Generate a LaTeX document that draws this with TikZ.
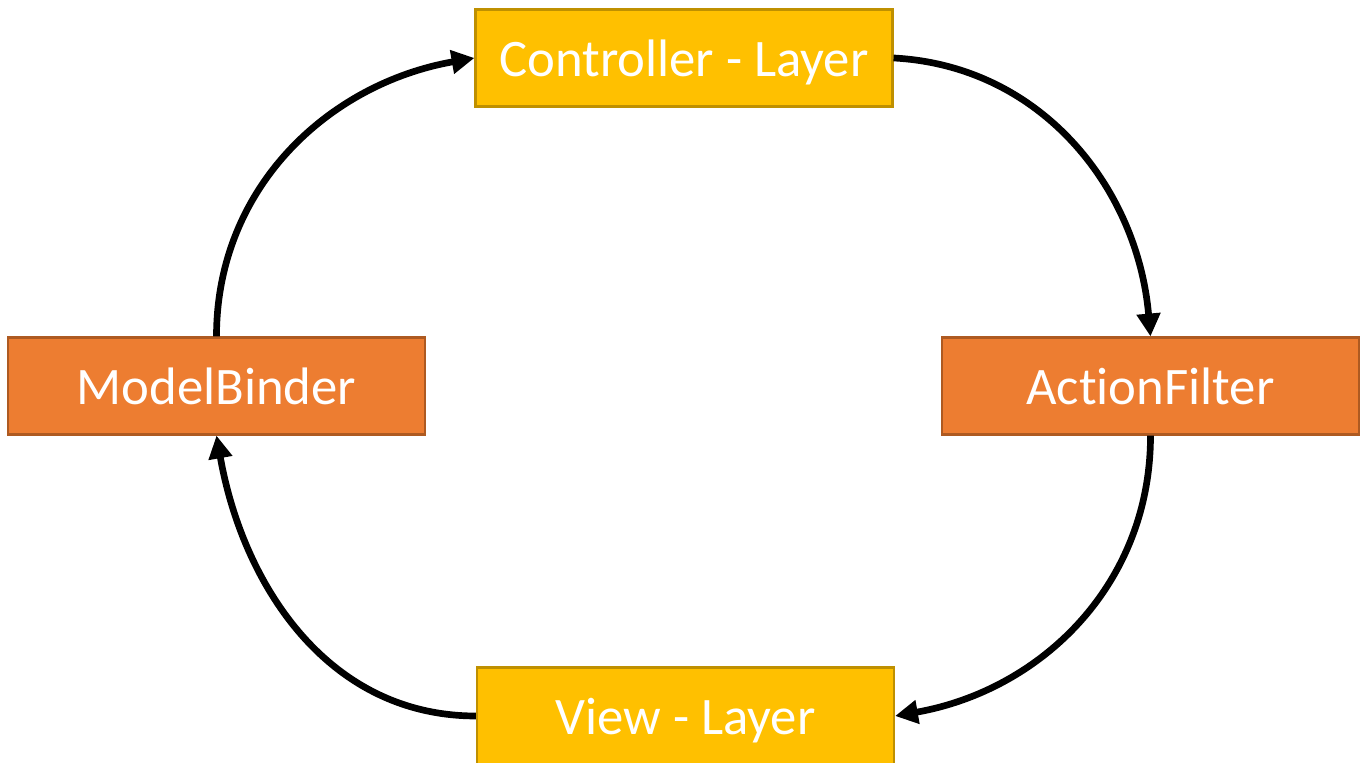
\documentclass[tikz,border=0pt]{standalone}
\usepackage{fontspec}
\setmainfont{Carlito}[RawFeature={-liga;-clig;-calt;-dlig}]
\usepackage{tikz}
\usetikzlibrary{arrows.meta,positioning}
\definecolor{layerfill}{RGB}{255,192,0}
\definecolor{layerdraw}{RGB}{191,144,0}
\definecolor{stagefill}{RGB}{237,125,49}
\definecolor{stagedraw}{RGB}{174,90,33}
\tikzset{
  layer/.style={rectangle, minimum width=4.17cm, minimum height=0.97cm, inner sep=0pt,
                text height=0.5cm, text depth=0.12cm,
                draw=layerdraw, fill=layerfill, line width=0.6pt, text=white,
                font=\fontsize{15}{18}\selectfont},
  stage/.style={rectangle, minimum width=4.17cm, minimum height=0.97cm, inner sep=0pt,
                text height=0.5cm, text depth=0.12cm,
                draw=stagedraw, fill=stagefill, line width=0.6pt, text=white,
                font=\fontsize{15}{18}\selectfont},
  flow/.style={-{Triangle[length=6.5pt,width=6.5pt]}, line width=1.9pt, black},
}

\begin{document}
\begin{tikzpicture}
  \useasboundingbox (0,0) rectangle (13.66,7.63);
  % Layers
  \node[layer] (ctrl) at (6.84,7.05) {Controller - Layer};
  \node[layer] (view) at (6.855,0.47) {View - Layer};
  % Stages
  \node[stage] (binder) at (2.165,3.77) {ModelBinder};
  \node[stage] (filter) at (11.505,3.77) {Ac\kern0pt tionFilter};
  % Cycle
  \draw[flow] (binder.north) to[out=90,in=190] (ctrl.west);
  \draw[flow] (ctrl.east) to[out=-3,in=95] (filter.north);
  \draw[flow] (filter.south) to[out=-90,in=10] (view.east);
  \draw[flow] (view.west) to[out=180,in=-80] (binder.south);
\end{tikzpicture}
\end{document}
